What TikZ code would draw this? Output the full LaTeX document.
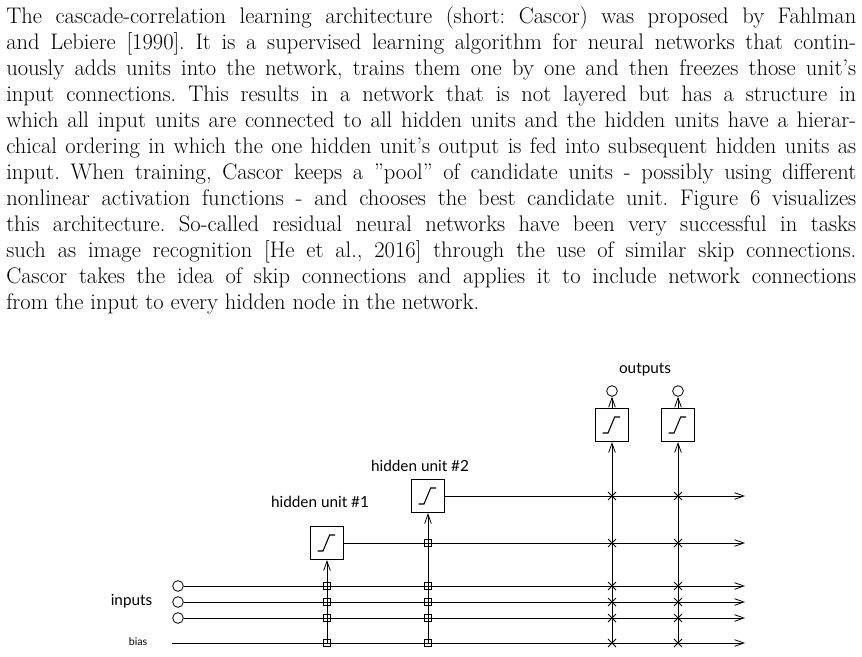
\documentclass[tikz,border=0pt]{standalone}
\usepackage{fontspec}
\newfontfamily\diagfont{Lato}
\usetikzlibrary{arrows.meta}
\tikzset{
  wire/.style={black, line width=0.6pt},
  flow/.style={wire, -{Straight Barb[length=7pt,width=5pt,line width=0.6pt]}},
  unit/.style={draw, line width=0.6pt, minimum size=25pt, inner sep=0pt,
    path picture={\draw[line width=0.8pt] ([shift={(-7pt,-6pt)}]path picture bounding box.center) -- ++(4pt,0) -- ++(5pt,12pt) -- ++(4pt,0);}},
  port/.style={draw, circle, line width=0.6pt, minimum size=8pt, inner sep=0pt},
  lbl/.style={font=\diagfont\fontsize{11.5}{13}\selectfont},
}
\begin{document}
\begin{tikzpicture}[x=0.75pt,y=-0.75pt]
  \useasboundingbox (0,0) rectangle (862,656);
  % paragraph
  \node[anchor=north west, inner sep=0pt, text width=637.5pt, align=justify,
        font=\fontsize{16.9}{19.5}\selectfont\frenchspacing] (txt) at (6,6) {%
  The cascade-correlation learning architecture (short: Cascor) was proposed by Fahlman\linebreak
  and Lebiere [1990]. It is a supervised learning algorithm for neural networks that contin-\linebreak
  uously adds units into the network, trains them one by one and then freezes those unit's\linebreak
  input connections. This results in a network that is not layered but has a structure in\linebreak
  which all input units are connected to all hidden units and the hidden units have a hierar-\linebreak
  chical ordering in which the one hidden unit's output is fed into subsequent hidden units as\linebreak
  input. When training, Cascor keeps a \textquotedblright pool\textquotedblright\ of candidate units - possibly using different\linebreak
  nonlinear activation functions - and chooses the best candidate unit. Figure 6 visualizes\linebreak
  this architecture. So-called residual neural networks have been very successful in tasks\linebreak
  such as image recognition [He et al., 2016] through the use of similar skip connections.\linebreak
  Cascor takes the idea of skip connections and applies it to include network connections\linebreak
  from the input to every hidden node in the network.\par};

  % units
  \node[unit] (h1) at (327,543) {};
  \node[unit] (h2) at (428,496) {};
  \node[unit] (o1) at (612,425) {};
  \node[unit] (o2) at (678,425) {};
  \node[port] (y1) at (612,391) {};
  \node[port] (y2) at (678,391) {};
  \foreach \i/\y in {1/586,2/602,3/618} {
    \node[port] (x\i) at (178,\y) {};
    \coordinate (e\i) at (745,\y);
  }
  \coordinate (b0) at (172,643);
  \coordinate (eb) at (745,643);
  \coordinate (e4) at (745,543);
  \coordinate (e5) at (745,496);

  % labels
  \node[lbl] (lout) at (645,370) {outputs};
  \node[lbl] (lh2) at (420,466) {hidden unit \#2};
  \node[lbl] (lh1) at (320,502) {hidden unit \#1};
  \node[lbl, anchor=east] (lin) at (157,601) {inputs};
  \node[lbl, font=\diagfont\fontsize{8}{9}\selectfont, anchor=east] (lb) at (152,642) {bias};

  % horizontal wires
  \foreach \i in {1,2,3} \draw[flow] (x\i) -- (e\i);
  \draw[flow] (b0) -- (eb);
  \draw[flow] (h1) -- (e4);
  \draw[flow] (h2) -- (e5);

  % vertical wires
  \draw[flow] (327,643) -- (h1);
  \draw[flow] (428,643) -- (h2);
  \draw[flow] (612,643) -- (o1);
  \draw[flow] (678,643) -- (o2);
  \draw[flow] (o1) -- (y1);
  \draw[flow] (o2) -- (y2);

  % trainable and frozen weights
  \foreach \y in {586,602,618,643} \draw[wire] (323.5,\y-3.5) rectangle ++(7,7);
  \foreach \y in {543,586,602,618,643} \draw[wire] (424.5,\y-3.5) rectangle ++(7,7);
  \foreach \x in {612,678}
    \foreach \y in {496,543,586,602,618,643}
      \draw[wire] (\x-4,\y-4) -- (\x+4,\y+4) (\x-4,\y+4) -- (\x+4,\y-4);
\end{tikzpicture}
\end{document}
